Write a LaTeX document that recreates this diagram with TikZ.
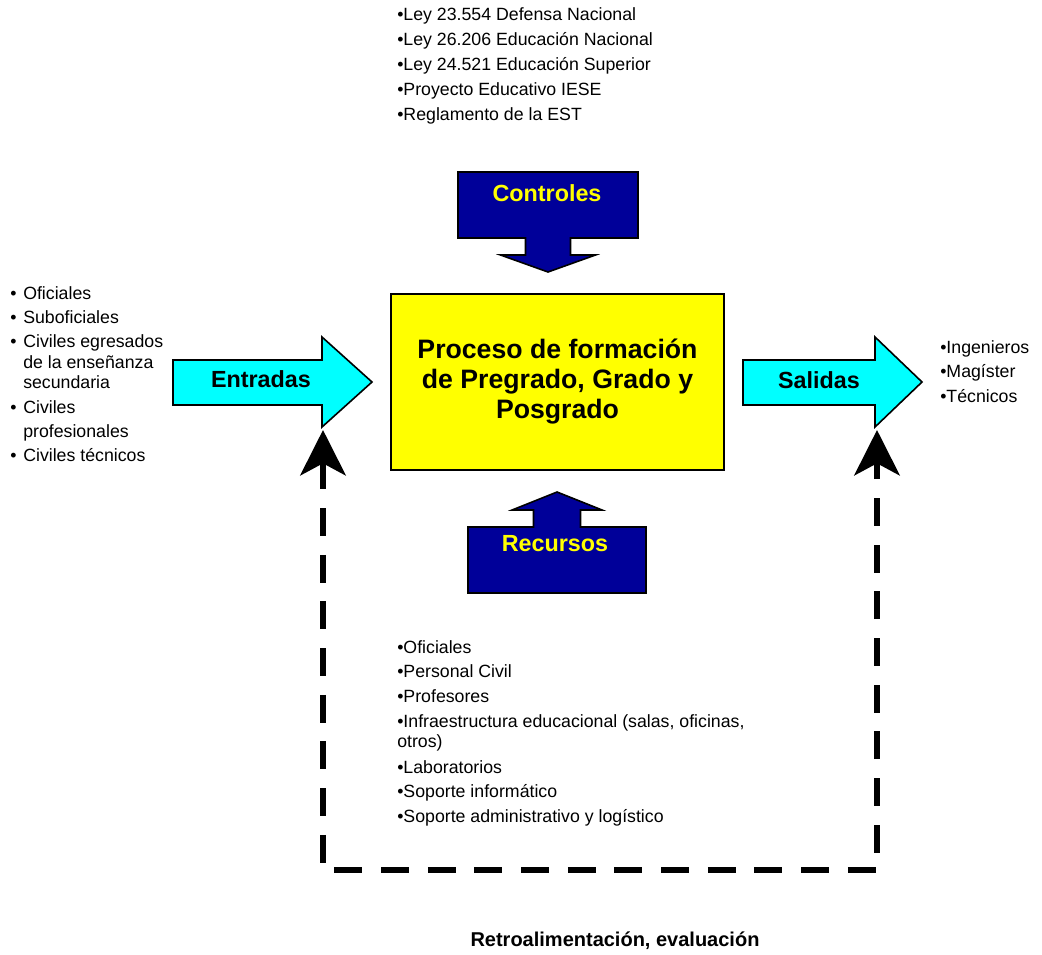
\documentclass[tikz,border=0pt]{standalone}
\usepackage{fontspec}
\setmainfont{Liberation Sans}
\usetikzlibrary{arrows.meta, positioning}
\definecolor{ctrlblue}{HTML}{000099}
\definecolor{flowcyan}{HTML}{00FFFF}
\definecolor{procyellow}{HTML}{FFFF00}

\begin{document}
\begin{tikzpicture}[x=0.75pt, y=-0.75pt,
  listtext/.style={anchor=base west, inner sep=0pt, font=\fontsize{13.3}{15}\selectfont},
  flowlabel/.style={font=\fontsize{17.5}{20}\selectfont\bfseries, inner sep=0pt},
  procbox/.style={rectangle, draw=black, line width=1.5pt, fill=procyellow,
    minimum width=249.75pt, minimum height=132pt, align=center,
    font=\fontsize{20}{22.5}\selectfont\bfseries},
  bluearrow/.style={draw=black, line width=1.2pt, fill=ctrlblue},
  cyanarrow/.style={draw=black, line width=1.2pt, fill=flowcyan},
  feedback/.style={line width=4.5pt, dash pattern=on 21pt off 14pt,
    >={Stealth[length=34pt, width=34pt, inset=9pt]}, <->},
]
  \useasboundingbox (0,0) rectangle (1042,954);

  % Proceso
  \node[procbox] (proc) at (557.5,382) {Proceso de formación\\de Pregrado, Grado y\\Posgrado};

  % Controles
  \draw[bluearrow] (458,172) -- (638,172) -- (638,238) -- (570.5,238) -- (570.5,255)
    -- (595.5,255) -- (548,272) -- (500.5,255) -- (525.5,255) -- (525.5,238) -- (458,238) -- cycle;
  \node[flowlabel, procyellow] (ctrl) at (547,193) {Controles};
  \foreach \txt [count=\i] in {Ley 23.554 Defensa Nacional, Ley 26.206 Educación Nacional,
      Ley 24.521 Educación Superior, Proyecto Educativo IESE, Reglamento de la EST}
    \node[listtext] (ctrl\i) at (397,{20+25.2*(\i-1)}) {•\txt};

  % Recursos
  \draw[bluearrow] (468,593) -- (468,527) -- (533.5,527) -- (533.5,510) -- (512,510)
    -- (557,492) -- (602,510) -- (580.5,510) -- (580.5,527) -- (646,527) -- (646,593) -- cycle;
  \node[flowlabel, procyellow] (rec) at (555,544) {Recursos};
  \foreach \y/\txt in {653/•Oficiales, 677/•Personal Civil, 702/•Profesores,
      727/{•Infraestructura educacional (salas, oficinas,}, 747/otros),
      773/•Laboratorios, 797/•Soporte informático, 822/•Soporte administrativo y logístico}
    \node[listtext] (rec\y) at (397,\y) {\txt};

  % Entradas
  \draw[cyanarrow] (173,360) -- (322,360) -- (322,337) -- (372,382) -- (322,427)
    -- (322,405) -- (173,405) -- cycle;
  \node[flowlabel] (entradas) at (261,379) {Entradas};
  \foreach \y/\b/\txt in {299/•/Oficiales, 323/•/Suboficiales, 347/•/Civiles egresados,
      368//de la enseñanza, 388//secundaria, 413/•/Civiles, 437//profesionales,
      461/•/Civiles técnicos}
    {
    \node[listtext] (inb\y) at (10,\y) {\b};
    \node[listtext] (in\y) at (23,\y) {\txt};
    }

  % Salidas
  \draw[cyanarrow] (743,360) -- (875,360) -- (875,337) -- (922,382) -- (875,427)
    -- (875,405) -- (743,405) -- cycle;
  \node[flowlabel] (salidas) at (819,380) {Salidas};
  \foreach \txt [count=\i] in {Ingenieros, Magíster, Técnicos}
    \node[listtext] (out\i) at (940,{353+24.5*(\i-1)}) {•\txt};

  % Retroalimentacion
  \coordinate (fbtipL) at (323,430);
  \coordinate (fbcornerL) at (323,870);
  \coordinate (fbcornerR) at (877,870);
  \coordinate (fbtipR) at (877,430);
  \draw[feedback] (fbtipL) -- (fbcornerL) -- (fbcornerR) -- (fbtipR);
  \node[font=\fontsize{15}{18}\selectfont\bfseries] (retro) at (615,941) {Retroalimentación, evaluación};
\end{tikzpicture}
\end{document}
